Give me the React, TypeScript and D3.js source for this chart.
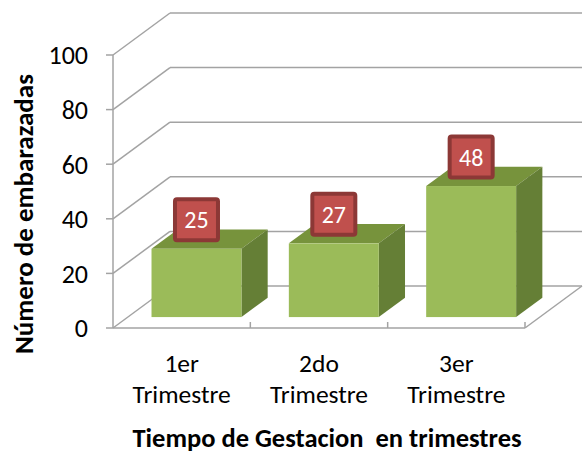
import React from 'react';
import * as d3 from 'd3';

const categories = ['1er Trimestre', '2do Trimestre', '3er Trimestre'];
const values = [25, 27, 48];
const yTicks = [0, 20, 40, 60, 80, 100];

const width = 584;
const height = 456;
const font = 'Calibri, Carlito, Lato, sans-serif';

// 3d offsets
const depth = { dx: 57, dy: -42 };
const barShift = 0.26;
const barDepth = 0.46;

export default function App() {
  const x = d3.scaleBand<string>()
    .domain(categories)
    .range([113, 525])
    .paddingInner(0.345)
    .paddingOuter(0.1725);
  const band = d3.scaleBand<string>().domain(categories).range([113, 525]);
  const y = d3.scaleLinear().domain([0, 100]).range([328, 55]);

  const sx = depth.dx * barShift;
  const sy = depth.dy * barShift;
  const bdx = depth.dx * barDepth;
  const bdy = depth.dy * barDepth;
  const grid = '#a3a3a3';
  const right = 525;

  return (
    <svg width={width} height={height} style={{ position: 'absolute', left: 0, top: 0 }}>
      <rect width={width} height={height} fill="#fff" />
      {/* walls */}
      {yTicks.map(t => (
        <g key={t}>
          <line x1={113} y1={y(t)} x2={113 + depth.dx} y2={y(t) + depth.dy} stroke={grid} strokeWidth={1.5} />
          <line x1={113 + depth.dx} y1={y(t) + depth.dy} x2={right + depth.dx} y2={y(t) + depth.dy} stroke={grid} strokeWidth={1.5} />
          <line x1={106} y1={y(t)} x2={113} y2={y(t)} stroke={grid} strokeWidth={1.5} />
          <text x={88} y={y(t)} dy="0.36em" textAnchor="end" fontFamily={font} fontSize={26} fill="#000">{t}</text>
        </g>
      ))}
      {/* floor */}
      <line x1={113} y1={y(0)} x2={right} y2={y(0)} stroke={grid} strokeWidth={1.5} />
      <line x1={right} y1={y(0)} x2={right + depth.dx} y2={y(0) + depth.dy} stroke={grid} strokeWidth={1.5} />
      <line x1={113} y1={y(100)} x2={113} y2={y(0)} stroke={grid} strokeWidth={1.5} />
      {categories.map(c => (
        <line key={c} x1={band(c)! + band.bandwidth()} y1={y(0)} x2={band(c)! + band.bandwidth()} y2={y(0) - 6} stroke={grid} strokeWidth={1.5} />
      ))}
      {/* bars */}
      {categories.map((c, i) => {
        const x0 = x(c)! + sx;
        const x1 = x0 + x.bandwidth();
        const yb = y(0) + sy;
        const yt = y(values[i]) + sy;
        return (
          <g key={c}>
            <polygon points={`${x0},${yt} ${x0 + bdx},${yt + bdy} ${x1 + bdx},${yt + bdy} ${x1},${yt}`} fill="#77933c" />
            <polygon points={`${x1},${yt} ${x1 + bdx},${yt + bdy} ${x1 + bdx},${yb + bdy} ${x1},${yb}`} fill="#657f36" />
            <rect x={x0} y={yt} width={x.bandwidth()} height={yb - yt} fill="#9bbb59" />
          </g>
        );
      })}
      {/* labels */}
      {categories.map((c, i) => {
        const cx = x(c)! + sx + x.bandwidth() / 2;
        const cy = y(values[i]) + sy - 29;
        return (
          <g key={c}>
            <rect x={cx - 21.5} y={cy - 20.5} width={43} height={41} rx={2} fill="#c0504d" stroke="#8c3836" strokeWidth={4} />
            <text x={cx} y={cy} dy="0.36em" textAnchor="middle" fontFamily={font} fontSize={24} fill="#fff">{values[i]}</text>
          </g>
        );
      })}
      {/* category labels */}
      {categories.map(c => {
        const [a, b] = c.split(' ');
        const cx = band(c)! + band.bandwidth() / 2;
        return (
          <text key={c} x={cx} textAnchor="middle" fontFamily={font} fontSize={25.5} fill="#000">
            <tspan x={cx} y={372}>{a}</tspan>
            <tspan x={cx} y={403}>{b}</tspan>
          </text>
        );
      })}
      <text x={327} y={447} textAnchor="middle" fontFamily={font} fontSize={26.5} fontWeight="bold" fill="#000" style={{ whiteSpace: 'pre' }}>
        Tiempo de Gestacion  en trimestres
      </text>
      <text transform="translate(33,214) rotate(-90)" textAnchor="middle" fontFamily={font} fontSize={27} fontWeight="bold" fill="#000">
        Número de embarazadas
      </text>
    </svg>
  );
}
